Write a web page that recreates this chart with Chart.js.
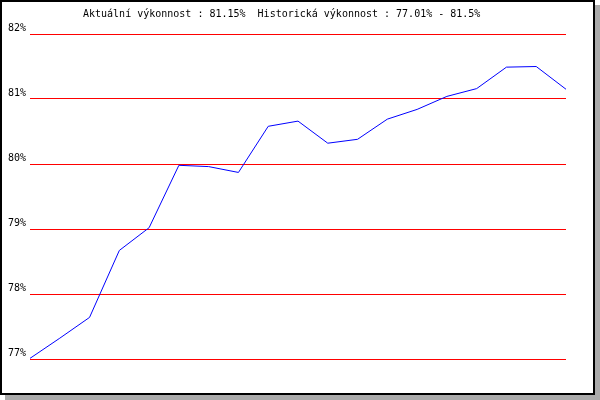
<!DOCTYPE html>
<html>
<head>
<meta charset="utf-8">
<script src="https://cdn.jsdelivr.net/npm/chart.js@4"></script>
<style>
    body { margin: 0; background: #fff; }
    #marco {
        position: absolute; left: 0; top: 0;
        width: 591px; height: 391px;
        border: 2px solid #000;
        box-shadow: 5px 5px 0 #aaa;
        background: #fff;
    }
    canvas { display: block; }
</style>
</head>
<body>
<div id="marco"><canvas id="chart1" width="591" height="391"></canvas></div>
<script>
// Datos del gráfico.
const PERIODOS = ['1', '2', '3', '4', '5', '6', '7', '8', '9', '10', '11', '12', '13', '14', '15', '16', '17', '18', '19'];
const VYKONNOST = [77.01, 77.32, 77.64, 78.67, 79.02, 79.98, 79.96, 79.87, 80.58, 80.66, 80.32, 80.38, 80.69, 80.84, 81.04, 81.16, 81.49, 81.50, 81.15];
const Y_MIN = 77;
const Y_MAX = 82;
const TITULO = 'Aktuální výkonnost : 81.15%  Historická výkonnost : 77.01% - 81.5%';
const FUENTE = '10px "DejaVu Sans Mono", monospace';

// Plugin para escribir el título arriba, en la misma posición que el original.
const tituloPlugin = {
    id: 'tituloPlugin',
    afterDraw: (chart) => {
        const ctx = chart.ctx;
        ctx.save();
        ctx.font = FUENTE;
        ctx.fillStyle = '#000';
        ctx.textAlign = 'left';
        ctx.textBaseline = 'alphabetic';
        ctx.fillText(TITULO, 81, 15);
        ctx.restore();
    }
};

document.addEventListener('DOMContentLoaded', () => {
    new Chart(document.getElementById('chart1').getContext('2d'), {
        type: 'line',
        data: {
            labels: PERIODOS,
            datasets: [{
                data: VYKONNOST,
                borderColor: '#0000ff',
                borderWidth: 1,
                pointRadius: 0,
                tension: 0,
                fill: false
            }]
        },
        options: {
            responsive: false,
            animation: false,
            layout: {
                padding: { left: 0, right: 27, top: 32, bottom: 34 }
            },
            plugins: {
                legend: { display: false },
                title: { display: false },
                tooltip: { enabled: false }
            },
            scales: {
                x: {
                    display: false
                },
                y: {
                    min: Y_MIN,
                    max: Y_MAX,
                    afterFit: (scale) => { scale.width = 28; },
                    border: { display: false },
                    grid: {
                        color: '#ff0000',
                        lineWidth: 1,
                        drawTicks: false
                    },
                    ticks: {
                        stepSize: 1,
                        padding: 4,
                        labelOffset: -6,
                        color: '#000',
                        font: { family: '"DejaVu Sans Mono", monospace', size: 10 },
                        callback: (v) => v + '%'
                    }
                }
            }
        },
        plugins: [tituloPlugin]
    });
});
</script>
</body>
</html>
